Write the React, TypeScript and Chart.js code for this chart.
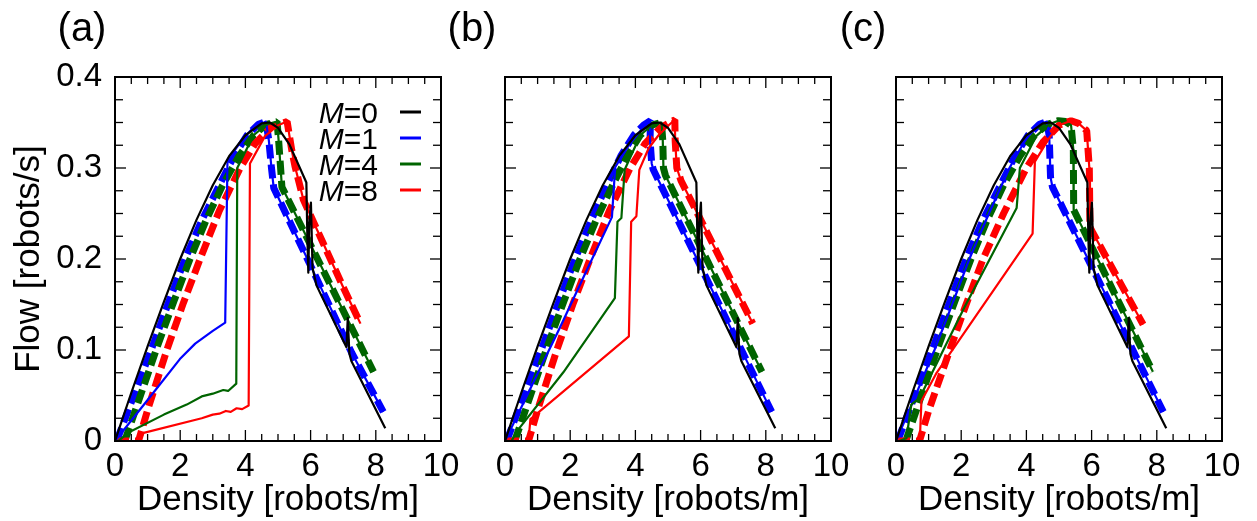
import React, { useEffect, useRef } from 'react';
import { Chart, registerables } from 'chart.js';

Chart.register(...registerables);

type Pt = [number, number];

// ---------- axis ticks / labels ----------
const X_TICKS = [0, 2, 4, 6, 8, 10];
const Y_TICKS = [0, 0.1, 0.2, 0.3, 0.4];
const X_MINOR_STEP = 0.5;
const Y_MINOR_STEP = 0.025;
const X_TITLE = 'Density [robots/m]';
const Y_TITLE = 'Flow [robots/s]';
const PANEL_LABELS = ['(a)', '(b)', '(c)'];
const LEGEND_M = ['0', '1', '4', '8'];

// ---------- data (density, flow) ----------
// M=0 (same curve in every panel)
const BLACK_M0: Pt[] = [
  [0, 0], [0.5, 0.053], [1, 0.104], [1.5, 0.153], [2, 0.2], [2.5, 0.243], [3, 0.281], [3.5, 0.313],
  [4, 0.336], [4.5, 0.349], [4.75, 0.35], [5, 0.344], [5.35, 0.326], [5.87, 0.284], [5.9, 0.225],
  [5.93, 0.185], [5.96, 0.24], [6.01, 0.262], [6.06, 0.19], [6.18, 0.171], [7.1, 0.103], [7.14, 0.135],
  [7.19, 0.096], [7.25, 0.088], [8.29, 0.014],
];

// shared rising branches of the dashed curves
const BLUE_RISE: Pt[] = [
  [0.05, 0], [0.6, 0.052], [1.15, 0.104], [1.65, 0.153], [2.15, 0.2], [2.67, 0.243], [3.2, 0.281],
  [3.65, 0.313], [4.05, 0.336], [4.4, 0.348], [4.63, 0.351],
];
const GREEN_RISE: Pt[] = [
  [0.3, 0], [0.8, 0.052], [1.3, 0.104], [1.8, 0.153], [2.3, 0.2], [2.8, 0.243], [3.3, 0.281],
  [3.8, 0.313], [4.25, 0.336], [4.65, 0.348],
];
const RED_RISE: Pt[] = [
  [0, 0], [0.72, 0], [1, 0.034], [1.59, 0.1], [2.1, 0.152], [2.61, 0.2], [3.2, 0.253], [3.84, 0.3],
  [4.3, 0.327], [4.8, 0.345],
];

// panel (a)
const A_BLUE_DESC: Pt[] = [[4.72, 0.33], [4.8, 0.3], [4.87, 0.278], [6.1, 0.185], [7.26, 0.097], [8.23, 0.032]];
const A_BLUE_SOLID_RISE: Pt[] = [
  [0, 0], [1, 0.045], [1.99, 0.09], [2.46, 0.107], [3, 0.121], [3.38, 0.13], [3.45, 0.308], [3.8, 0.326],
  [4.2, 0.343], [4.63, 0.351],
];
const A_GREEN_DESC: Pt[] = [[4.97, 0.351], [5.02, 0.33], [5.08, 0.3], [5.12, 0.279], [7.93, 0.076]];
const A_GREEN_SOLID_RISE: Pt[] = [
  [0.1, 0], [0.4, 0.009], [1.5, 0.029], [2.2, 0.04], [2.66, 0.049], [3, 0.052], [3.32, 0.056],
  [3.47, 0.055], [3.72, 0.063], [3.75, 0.3], [4.25, 0.336], [4.65, 0.348],
];
const A_RED_DESC: Pt[] = [
  [5.28, 0.351], [5.33, 0.34], [5.42, 0.32], [5.52, 0.302], [5.78, 0.265], [6.39, 0.217], [7, 0.169], [7.53, 0.129],
];
const A_RED_SOLID_RISE: Pt[] = [
  [0, 0], [0.72, 0], [0.88, 0.009], [2.66, 0.025], [3, 0.029], [3.2, 0.03], [3.4, 0.033], [3.55, 0.032],
  [3.73, 0.036], [3.9, 0.035], [4.1, 0.039], [4.14, 0.305], [4.6, 0.335], [5, 0.347],
];

// panel (b)
const B_BLUE_RISE: Pt[] = [
  [0.05, 0], [0.6, 0.052], [1.15, 0.104], [1.65, 0.153], [2.15, 0.2], [2.65, 0.243], [3.12, 0.281],
  [3.55, 0.313], [3.95, 0.336], [4.25, 0.347], [4.46, 0.352],
];
const B_BLUE_DESC: Pt[] = [[4.45, 0.33], [4.5, 0.305], [4.55, 0.298], [8.18, 0.032]];
const B_BLUE_SOLID_RISE: Pt[] = [
  [0, 0], [0.85, 0.063], [1.69, 0.125], [2.5, 0.187], [3.28, 0.246], [3.38, 0.301], [3.8, 0.325],
  [4.2, 0.343], [4.46, 0.352],
];
const B_GREEN_RISE: Pt[] = [
  [0.3, 0], [0.8, 0.052], [1.3, 0.104], [1.8, 0.153], [2.3, 0.2], [2.8, 0.243], [3.3, 0.281],
  [3.75, 0.313], [4.15, 0.336], [4.5, 0.347],
];
const B_GREEN_DESC: Pt[] = [[4.8, 0.35], [4.84, 0.33], [4.86, 0.3], [4.92, 0.292], [7.88, 0.076]];
const B_GREEN_SOLID_RISE: Pt[] = [
  [0.2, 0], [0.35, 0.01], [1.79, 0.0755], [3.37, 0.157], [3.45, 0.241], [3.57, 0.245], [3.67, 0.298],
  [4.15, 0.336], [4.5, 0.347],
];
const B_RED_DESC: Pt[] = [[5.21, 0.353], [5.22, 0.33], [5.27, 0.3], [5.4, 0.286], [7.6, 0.129]];
const B_RED_SOLID_RISE: Pt[] = [
  [0, 0], [0.72, 0], [0.78, 0.024], [3.8, 0.115], [3.87, 0.241], [4.03, 0.247], [4.12, 0.298],
  [4.41, 0.322], [4.71, 0.336], [5.02, 0.347],
];

// panel (c)
const C_BLUE_DESC: Pt[] = [[4.7, 0.335], [4.74, 0.29], [4.8, 0.279], [8.2, 0.032]];
const C_BLUE_SOLID_RISE: Pt[] = [
  [0, 0], [0.6, 0.05], [1.18, 0.1], [1.7, 0.148], [2.25, 0.2], [2.85, 0.25], [3.48, 0.3], [4, 0.333],
  [4.4, 0.348], [4.63, 0.351],
];
const C_GREEN_DESC: Pt[] = [
  [4.98, 0.352], [5.2, 0.351], [5.37, 0.347], [5.44, 0.32], [5.45, 0.254], [7.88, 0.076],
];
const C_GREEN_SOLID_RISE: Pt[] = [
  [0.1, 0], [0.32, 0.003], [0.47, 0.04], [0.72, 0.047], [2.1, 0.147], [3.7, 0.256], [3.8, 0.3],
  [4.3, 0.335], [4.7, 0.348],
];
const C_RED_RISE: Pt[] = [
  [0, 0], [0.72, 0], [1, 0.033], [1.65, 0.1], [2.15, 0.15], [2.67, 0.2], [3.3, 0.25], [4, 0.3],
  [4.5, 0.328], [5, 0.347],
];
const C_RED_DESC: Pt[] = [
  [5.37, 0.352], [5.6, 0.349], [5.85, 0.341], [5.93, 0.3], [5.95, 0.235], [6.05, 0.228], [7.58, 0.128],
];
const C_RED_SOLID_RISE: Pt[] = [
  [0, 0], [0.73, 0], [0.78, 0.044], [1.23, 0.074], [4.19, 0.228], [4.26, 0.307], [4.7, 0.333], [5, 0.347],
];

// ---------- styling ----------
const FONT = '"Liberation Sans", Arial, Helvetica, sans-serif';
const C_BLACK = '#000000';
const C_BLUE = '#0000ff';
const C_GREEN = '#006400';
const C_RED = '#ff0000';
const LEGEND_COLORS = [C_BLACK, C_BLUE, C_GREEN, C_RED];
const W = 1257;
const H = 521;

interface PanelSeries {
  blueDash: Pt[]; blueSolid: Pt[];
  greenDash: Pt[]; greenSolid: Pt[];
  redDash: Pt[]; redSolid: Pt[];
}

const PANEL_SERIES: PanelSeries[] = [
  {
    blueDash: [...BLUE_RISE, ...A_BLUE_DESC],
    blueSolid: [...A_BLUE_SOLID_RISE, ...A_BLUE_DESC],
    greenDash: [...GREEN_RISE, ...A_GREEN_DESC],
    greenSolid: [...A_GREEN_SOLID_RISE, ...A_GREEN_DESC],
    redDash: [...RED_RISE, ...A_RED_DESC],
    redSolid: [...A_RED_SOLID_RISE, ...A_RED_DESC],
  },
  {
    blueDash: [...B_BLUE_RISE, ...B_BLUE_DESC],
    blueSolid: [...B_BLUE_SOLID_RISE, ...B_BLUE_DESC],
    greenDash: [...B_GREEN_RISE, ...B_GREEN_DESC],
    greenSolid: [...B_GREEN_SOLID_RISE, ...B_GREEN_DESC],
    redDash: [...RED_RISE, ...B_RED_DESC],
    redSolid: [...B_RED_SOLID_RISE, ...B_RED_DESC],
  },
  {
    blueDash: [...BLUE_RISE, ...C_BLUE_DESC],
    blueSolid: [...C_BLUE_SOLID_RISE, ...C_BLUE_DESC],
    greenDash: [...GREEN_RISE, ...C_GREEN_DESC],
    greenSolid: [...C_GREEN_SOLID_RISE, ...C_GREEN_DESC],
    redDash: [...C_RED_RISE, ...C_RED_DESC],
    redSolid: [...C_RED_SOLID_RISE, ...C_RED_DESC],
  },
];

// plot-area placement (left edge of canvas padding, y-axis width, right padding)
const PANEL_LAYOUT = [
  { padLeft: 0, yWidth: 115, padRight: W - 441 },
  { padLeft: 440, yWidth: 65, padRight: W - 831 },
  { padLeft: 830, yWidth: 66, padRight: W - 1222 },
];

function series(data: Pt[], color: string, dashed: boolean, label: string) {
  return {
    label,
    data: data.map(([x, y]) => ({ x, y })),
    borderColor: color,
    backgroundColor: color,
    borderWidth: dashed ? 7 : 2.2,
    borderDash: dashed ? [14, 6] : [],
    borderCapStyle: 'butt' as const,
    borderJoinStyle: (dashed ? 'bevel' : 'round') as any,
    pointRadius: 0,
    pointHoverRadius: 0,
    tension: 0,
    fill: false,
  };
}

function framePlugin(panelIndex: number) {
  return {
    id: 'frameTicksLegend' + panelIndex,
    afterDraw(chart: any) {
      const { ctx, chartArea } = chart;
      const { left, right, top, bottom } = chartArea;
      const xs = chart.scales.x;
      const ys = chart.scales.y;
      ctx.save();
      ctx.strokeStyle = '#000';
      ctx.lineWidth = 1.3;
      const seg = (x1: number, y1: number, x2: number, y2: number) => {
        ctx.beginPath();
        ctx.moveTo(x1, y1);
        ctx.lineTo(x2, y2);
        ctx.stroke();
      };
      const nX = Math.round((xs.max - xs.min) / X_MINOR_STEP);
      for (let i = 0; i <= nX; i++) {
        const v = xs.min + i * X_MINOR_STEP;
        const px = xs.getPixelForValue(v);
        const major = X_TICKS.some((t) => Math.abs(t - v) < 1e-9);
        const len = major ? 11 : 7;
        seg(px, bottom, px, bottom - len);
        seg(px, top, px, top + len);
      }
      const nY = Math.round((ys.max - ys.min) / Y_MINOR_STEP);
      for (let i = 0; i <= nY; i++) {
        const v = ys.min + i * Y_MINOR_STEP;
        const py = ys.getPixelForValue(v);
        const major = Y_TICKS.some((t) => Math.abs(t - v) < 1e-9);
        const len = major ? 11 : 8;
        seg(left, py, left + len, py);
        seg(right, py, right - len, py);
      }
      ctx.lineWidth = 2;
      ctx.strokeRect(left, top, right - left, bottom - top);

      // panel label
      ctx.fillStyle = '#000';
      ctx.font = `40px ${FONT}`;
      ctx.textAlign = 'center';
      ctx.textBaseline = 'alphabetic';
      ctx.fillText(PANEL_LABELS[panelIndex], left - 33, 41);

      // legend (panel a only)
      if (panelIndex === 0) {
        const textRight = right - 63;
        LEGEND_M.forEach((m, i) => {
          const base = 123 + i * 26;
          ctx.font = `30px ${FONT}`;
          ctx.textAlign = 'right';
          const rest = '=' + m;
          const wRest = ctx.measureText(rest).width;
          ctx.fillStyle = '#000';
          ctx.fillText(rest, textRight, base);
          ctx.font = `italic 30px ${FONT}`;
          ctx.fillText('M', textRight - wRest, base);
          ctx.strokeStyle = LEGEND_COLORS[i];
          ctx.lineWidth = 3;
          seg(right - 41, base - 11, right - 20, base - 11);
        });
      }
      ctx.restore();
    },
  };
}

function buildChart(canvas: HTMLCanvasElement, panelIndex: number) {
  const s = PANEL_SERIES[panelIndex];
  const lay = PANEL_LAYOUT[panelIndex];
  const showY = panelIndex === 0;
  return new Chart(canvas, {
    type: 'line',
    data: {
      datasets: [
        series(BLACK_M0, C_BLACK, false, 'M=0'),
        series(s.redSolid, C_RED, false, 'M=8 solid'),
        series(s.greenSolid, C_GREEN, false, 'M=4 solid'),
        series(s.blueSolid, C_BLUE, false, 'M=1 solid'),
        series(s.redDash, C_RED, true, 'M=8'),
        series(s.greenDash, C_GREEN, true, 'M=4'),
        series(s.blueDash, C_BLUE, true, 'M=1'),
      ],
    },
    options: {
      animation: false,
      responsive: false,
      maintainAspectRatio: false,
      events: [],
      layout: { padding: { left: lay.padLeft, right: lay.padRight, top: 77, bottom: 0 } },
      plugins: {
        legend: { display: false },
        tooltip: { enabled: false },
        title: { display: false },
      },
      scales: {
        x: {
          type: 'linear',
          min: 0,
          max: 10,
          grid: { display: false, drawTicks: false },
          border: { display: false },
          afterBuildTicks: (sc: any) => {
            sc.ticks = X_TICKS.map((v) => ({ value: v }));
          },
          afterFit: (sc: any) => {
            sc.height = 80;
          },
          ticks: {
            color: '#000',
            font: { size: 33, family: FONT, lineHeight: 1.2 },
            padding: 6,
            maxRotation: 0,
            autoSkip: false,
          },
          title: {
            display: true,
            text: X_TITLE,
            color: '#000',
            font: { size: 35, family: FONT, lineHeight: 1.2 },
            padding: { top: 0, bottom: 0 },
          },
        },
        y: {
          type: 'linear',
          min: 0,
          max: 0.4,
          grid: { display: false, drawTicks: false },
          border: { display: false },
          afterBuildTicks: (sc: any) => {
            sc.ticks = Y_TICKS.map((v) => ({ value: v }));
          },
          afterFit: (sc: any) => {
            sc.width = lay.yWidth;
          },
          ticks: {
            display: showY,
            color: '#000',
            font: { size: 33, family: FONT, lineHeight: 1.2 },
            padding: 13,
            callback: (v: any) => String(Math.round(Number(v) * 10) / 10),
          },
          title: {
            display: showY,
            text: Y_TITLE,
            color: '#000',
            font: { size: 35, family: FONT, lineHeight: 1.2 },
            padding: { top: 8, bottom: 0 },
          },
        },
      },
    } as any,
    plugins: [framePlugin(panelIndex)],
  });
}

export default function App() {
  const refA = useRef<HTMLCanvasElement>(null);
  const refB = useRef<HTMLCanvasElement>(null);
  const refC = useRef<HTMLCanvasElement>(null);

  useEffect(() => {
    const canvases = [refA.current, refB.current, refC.current];
    const charts = canvases.map((c, i) => (c ? buildChart(c, i) : null));
    return () => {
      charts.forEach((ch) => ch && ch.destroy());
    };
  }, []);

  const cStyle: React.CSSProperties = { position: 'absolute', left: 0, top: 0, width: W, height: H };
  return (
    <div style={{ position: 'fixed', left: 0, top: 0, width: W, height: H, background: '#ffffff' }}>
      <canvas ref={refA} width={W} height={H} style={cStyle} />
      <canvas ref={refB} width={W} height={H} style={cStyle} />
      <canvas ref={refC} width={W} height={H} style={cStyle} />
    </div>
  );
}
